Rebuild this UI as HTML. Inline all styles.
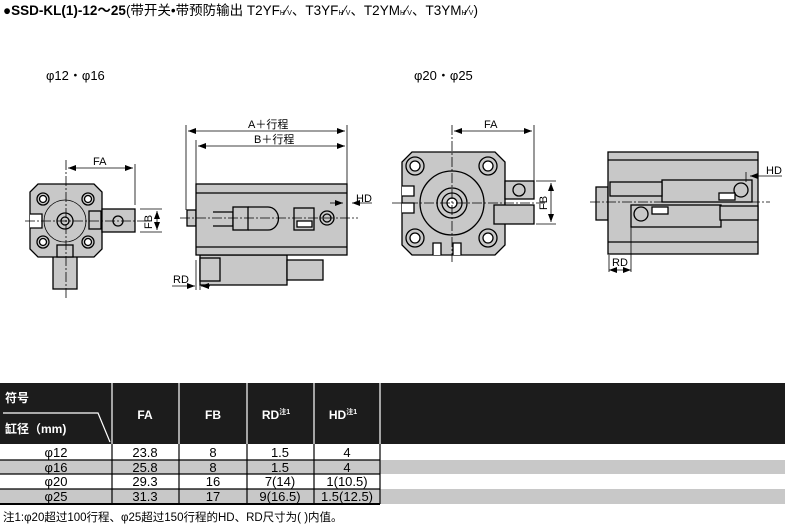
<!DOCTYPE html>
<html><head><meta charset="utf-8"><style>
body{margin:0;background:#fff;width:785px;height:526px;overflow:hidden;font-family:"Liberation Sans","Noto Sans CJK SC",sans-serif}
svg{position:absolute;left:0;top:0}
</style></head><body>
<svg width="785" height="526" viewBox="0 0 785 526" font-family="Liberation Sans, Noto Sans CJK SC, sans-serif">
<defs><marker id="a" viewBox="0 0 8 6" refX="8" refY="3" markerWidth="8" markerHeight="6" orient="auto-start-reverse" markerUnits="userSpaceOnUse"><path d="M0,0 L8,3 L0,6z" fill="#000"/></marker></defs>
<text x="3" y="15" font-size="13.5" font-weight="bold" fill="#000">●SSD-KL(1)-12～25<tspan font-weight="normal">(带开关•带预防输出 T2YF<tspan font-size="7">H</tspan>⁄<tspan font-size="7">V</tspan>、T3YF<tspan font-size="7">H</tspan>⁄<tspan font-size="7">V</tspan>、T2YM<tspan font-size="7">H</tspan>⁄<tspan font-size="7">V</tspan>、T3YM<tspan font-size="7">H</tspan>⁄<tspan font-size="7">V</tspan>)</tspan></text>
<text x="46" y="80" font-size="13">φ12・φ16</text>
<text x="414" y="80" font-size="13">φ20・φ25</text>

<g stroke="#000" stroke-width="1.3" fill="#c8c8c8">
<rect x="53" y="250" width="24" height="39"/>
<polygon points="38,184 94,184 102,192 102,249 94,257 38,257 30,249 30,192"/>
<rect x="102" y="209" width="33" height="23"/>
<rect x="89" y="211" width="12" height="18"/>
<circle cx="65" cy="221" r="21" fill="none" stroke-width="0.8"/>
<circle cx="65" cy="221" r="8"/><circle cx="65" cy="221" r="4"/>
<circle cx="43" cy="199" r="6"/><circle cx="88" cy="199" r="6"/><circle cx="43" cy="242" r="6"/><circle cx="88" cy="242" r="6"/>
<circle cx="43" cy="199" r="3.5" fill="#fff"/><circle cx="88" cy="199" r="3.5" fill="#fff"/><circle cx="43" cy="242" r="3.5" fill="#fff"/><circle cx="88" cy="242" r="3.5" fill="#fff"/>
<circle cx="118" cy="221" r="5"/>
<rect x="57" y="245" width="16" height="12"/>
<path d="M30,214 h12 v14 h-12" fill="#fff"/>
<rect x="200" y="255" width="87" height="30"/>
<rect x="200" y="258" width="20" height="23"/>
<rect x="287" y="260" width="36" height="20"/>
<rect x="187" y="210" width="9" height="16"/>
<rect x="196" y="184" width="151" height="71"/>
<line x1="196" y1="193" x2="347" y2="193"/><line x1="196" y1="247" x2="347" y2="247"/>
<path d="M213,212 h20 v14 h-20" fill="none"/>
<rect x="233" y="207" width="15" height="23"/>
<path d="M248,207 h20 a10,11 0 0 1 0,23 h-20" fill="none"/>
<rect x="294" y="208" width="20" height="22"/>
<rect x="297" y="221" width="15" height="6" fill="#fff"/>
<circle cx="327" cy="218" r="7"/><circle cx="327" cy="218" r="4"/>
<polygon points="412,152 495,152 505,162 505,245 495,255 412,255 402,245 402,162"/>
<rect x="505" y="181" width="29" height="18"/>
<rect x="494" y="205" width="40" height="19"/>
<circle cx="452" cy="203" r="32"/>
<circle cx="452" cy="203" r="15"/><circle cx="452" cy="203" r="10"/><circle cx="452" cy="203" r="5" fill="#fff"/>
<circle cx="415" cy="166" r="9"/><circle cx="488" cy="166" r="9"/><circle cx="415" cy="238" r="9"/><circle cx="488" cy="238" r="9"/>
<circle cx="415" cy="166" r="5" fill="#fff"/><circle cx="488" cy="166" r="5" fill="#fff"/><circle cx="415" cy="238" r="5" fill="#fff"/><circle cx="488" cy="238" r="5" fill="#fff"/>
<circle cx="519" cy="190" r="6"/>
<path d="M402,186 h12 v10 h-12 M402,203 h12 v10 h-12 M433,255 v-12 h8 v12 M453,255 v-12 h8 v12" fill="#fff"/>
<rect x="596" y="187" width="12" height="33"/>
<rect x="608" y="152" width="150" height="102"/>
<line x1="608" y1="160" x2="758" y2="160"/><line x1="608" y1="242" x2="758" y2="242"/>
<rect x="662" y="180" width="90" height="22"/>
<rect x="631" y="205" width="90" height="22"/>
<rect x="720" y="206" width="38" height="14"/>
<rect x="610" y="182" width="52" height="14"/>
<circle cx="741" cy="190" r="7"/><circle cx="641" cy="214" r="7"/>
<rect x="719" y="193" width="16" height="7" fill="#fff"/><rect x="652" y="207" width="16" height="7" fill="#fff"/>
</g>

<g stroke="#000" stroke-width="0.8" fill="none">
<line x1="66" y1="160" x2="66" y2="300" stroke-dasharray="10,2,2,2"/>
<line x1="135" y1="164" x2="135" y2="205"/>
<line x1="68" y1="168" x2="133" y2="168" marker-start="url(#a)" marker-end="url(#a)"/>
<line x1="140" y1="209" x2="162" y2="209"/><line x1="140" y1="232" x2="162" y2="232"/>
<line x1="157" y1="211" x2="157" y2="230" marker-start="url(#a)" marker-end="url(#a)"/>
<line x1="25" y1="221" x2="150" y2="221" stroke-dasharray="10,2,2,2"/>
<line x1="186" y1="125" x2="186" y2="210"/><line x1="347" y1="125" x2="347" y2="184"/>
<line x1="196" y1="140" x2="196" y2="184"/>
<line x1="188" y1="131" x2="345" y2="131" marker-start="url(#a)" marker-end="url(#a)"/>
<line x1="198" y1="146" x2="345" y2="146" marker-start="url(#a)" marker-end="url(#a)"/>
<line x1="180" y1="218" x2="358" y2="218" stroke-dasharray="10,2,2,2"/>
<line x1="330" y1="203" x2="343" y2="203" marker-end="url(#a)"/><line x1="372" y1="203" x2="352" y2="203" marker-end="url(#a)"/>
<line x1="196" y1="260" x2="196" y2="290"/><line x1="200" y1="260" x2="200" y2="290"/>
<line x1="172" y1="286" x2="195" y2="286" marker-end="url(#a)"/><line x1="210" y1="286" x2="201" y2="286" marker-end="url(#a)"/>
<line x1="452" y1="125" x2="452" y2="262" stroke-dasharray="10,2,2,2"/>
<line x1="534" y1="125" x2="534" y2="181"/>
<line x1="454" y1="131" x2="532" y2="131" marker-start="url(#a)" marker-end="url(#a)"/>
<line x1="536" y1="181" x2="556" y2="181"/><line x1="536" y1="224" x2="556" y2="224"/>
<line x1="551" y1="183" x2="551" y2="222" marker-start="url(#a)" marker-end="url(#a)"/>
<line x1="392" y1="203" x2="545" y2="203" stroke-dasharray="10,2,2,2"/>
<line x1="590" y1="202" x2="770" y2="202" stroke-dasharray="10,2,2,2"/>
<line x1="746" y1="172" x2="746" y2="182"/><line x1="782" y1="176" x2="750" y2="176" marker-end="url(#a)"/>
<line x1="631" y1="227" x2="631" y2="272"/><line x1="609" y1="255" x2="609" y2="272"/>
<line x1="609" y1="270" x2="631" y2="270" marker-start="url(#a)" marker-end="url(#a)"/>
</g>
<g font-size="11" fill="#000">
<text x="93" y="165">FA</text>
<text transform="translate(152,229) rotate(-90)">FB</text>
<text x="248" y="128">A＋行程</text>
<text x="254" y="143">B＋行程</text>
<text x="356" y="202">HD</text>
<text x="173" y="283">RD</text>
<text x="484" y="128">FA</text>
<text transform="translate(547,210) rotate(-90)">FB</text>
<text x="766" y="174">HD</text>
<text x="612" y="266">RD</text>
</g>

<rect x="0" y="383" width="785" height="61" fill="#1c1c1c"/>
<g stroke="#fff" stroke-width="1.2">
<line x1="112" y1="383" x2="112" y2="444"/><line x1="179" y1="383" x2="179" y2="444"/><line x1="247" y1="383" x2="247" y2="444"/><line x1="314" y1="383" x2="314" y2="444"/><line x1="380" y1="383" x2="380" y2="444"/>
<polyline points="3,413 98,413 110,442" fill="none"/>
</g>
<rect x="0" y="460" width="785" height="14" fill="#c8c8c8"/>
<rect x="0" y="489" width="785" height="15" fill="#c8c8c8"/>
<g stroke="#000" stroke-width="1.2">
<line x1="0" y1="460" x2="380" y2="460"/><line x1="0" y1="474" x2="380" y2="474"/><line x1="0" y1="489" x2="380" y2="489"/>
<line x1="0" y1="504" x2="380" y2="504" stroke-width="2"/>
<line x1="112" y1="444" x2="112" y2="504"/><line x1="179" y1="444" x2="179" y2="504"/><line x1="247" y1="444" x2="247" y2="504"/><line x1="314" y1="444" x2="314" y2="504"/><line x1="380" y1="444" x2="380" y2="504"/>
</g>
<g fill="#fff" font-size="12" font-weight="bold">
<text x="5" y="402">符号</text>
<text x="5" y="433">缸径（mm)</text>
<text x="145" y="419" text-anchor="middle">FA</text>
<text x="213" y="419" text-anchor="middle">FB</text>
<text x="276" y="419" text-anchor="middle">RD<tspan font-size="7" dy="-5">注1</tspan></text>
<text x="343" y="419" text-anchor="middle">HD<tspan font-size="7" dy="-5">注1</tspan></text>
</g>
<g font-size="13" text-anchor="middle" fill="#000">
<text x="56" y="457">φ12</text><text x="145" y="457">23.8</text><text x="213" y="457">8</text><text x="280" y="457">1.5</text><text x="347" y="457">4</text>
<text x="56" y="472">φ16</text><text x="145" y="472">25.8</text><text x="213" y="472">8</text><text x="280" y="472">1.5</text><text x="347" y="472">4</text>
<text x="56" y="486">φ20</text><text x="145" y="486">29.3</text><text x="213" y="486">16</text><text x="280" y="486">7(14)</text><text x="347" y="486">1(10.5)</text>
<text x="56" y="501">φ25</text><text x="145" y="501">31.3</text><text x="213" y="501">17</text><text x="280" y="501">9(16.5)</text><text x="347" y="501">1.5(12.5)</text>
</g>
<text x="3" y="521" font-size="11.5" fill="#000">注1:φ20超过100行程、φ25超过150行程的HD、RD尺寸为(  )内值。</text>
</svg>
</body></html>
